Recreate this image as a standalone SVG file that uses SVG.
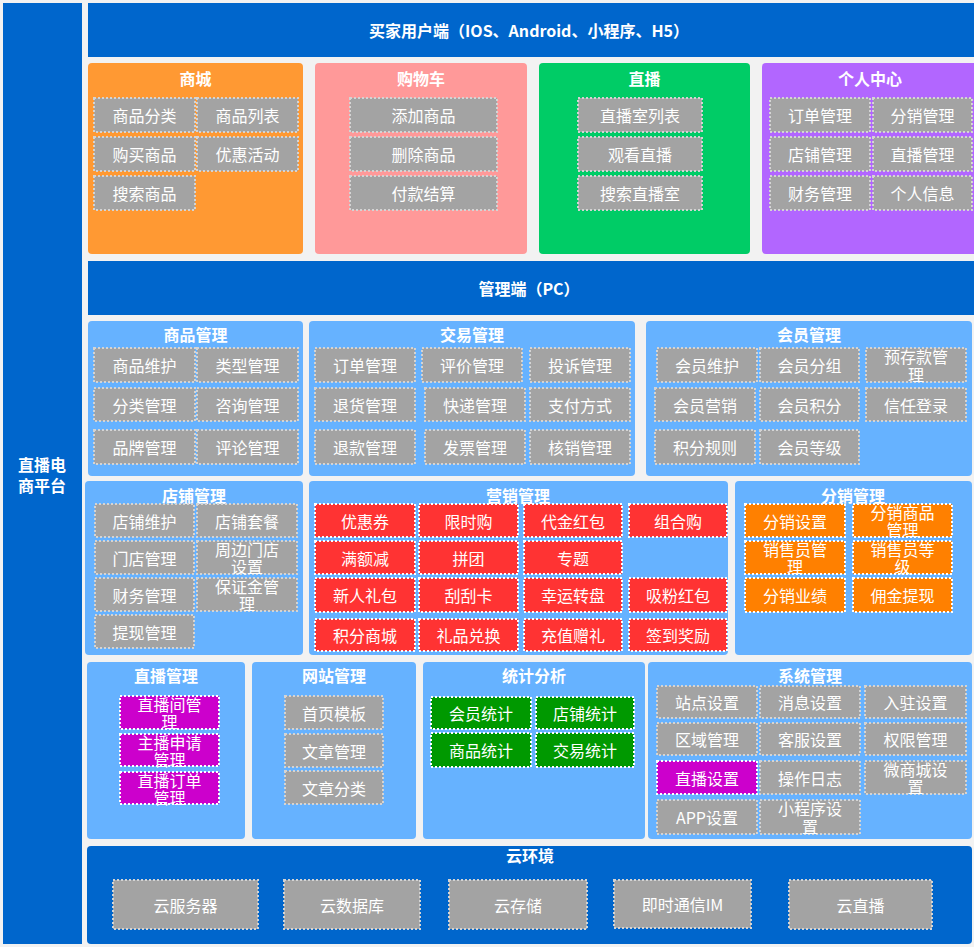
<svg xmlns="http://www.w3.org/2000/svg" width="974" height="947" viewBox="0 0 974 947">
<style>
text{font-family:"Microsoft YaHei","Noto Sans CJK SC","Noto Sans",sans-serif;fill:#fff;text-anchor:middle;dominant-baseline:central}
.t{font-size:16px;font-weight:bold}
.l{font-size:16px}
.blue{fill:#0066cc}
.card{fill:#66b2ff}
.it{fill:#a3a3a3;stroke:#d4d4d4;stroke-width:2;stroke-dasharray:2 2}
.red{fill:#ff3333;stroke:#fff;stroke-width:2;stroke-dasharray:2 2}
.org{fill:#ff8000;stroke:#fff;stroke-width:2;stroke-dasharray:2 2}
.mag{fill:#cc00cc;stroke:#fff;stroke-width:2;stroke-dasharray:2 2}
.grn{fill:#009900;stroke:#fff;stroke-width:2;stroke-dasharray:2 2}
</style>
<rect width="974" height="947" fill="#f2f2f2"/>
<g id="platform"><rect class="blue" x="3" y="3" width="79" height="941"/><text class="t" x="42" y="464">直播电<tspan x="42" dy="21">商平台</tspan></text></g>
<g id="buyer"><rect class="blue" x="88" y="3" width="890" height="54"/><text class="t" x="529" y="30">买家用户端（IOS、Android、小程序、H5）</text></g>

<g id="mall"><rect x="88" y="63" width="215" height="191" rx="4" fill="#ff9933"/><text class="t" x="195.5" y="78">商城</text>
<rect class="it" x="94" y="98" width="101" height="34"/><text class="l" x="144.5" y="115">商品分类</text>
<rect class="it" x="197" y="98" width="101" height="34"/><text class="l" x="247.5" y="115">商品列表</text>
<rect class="it" x="94" y="137" width="101" height="34"/><text class="l" x="144.5" y="154">购买商品</text>
<rect class="it" x="197" y="137" width="101" height="34"/><text class="l" x="247.5" y="154">优惠活动</text>
<rect class="it" x="94" y="176" width="101" height="34"/><text class="l" x="144.5" y="193">搜索商品</text></g>

<g id="cart"><rect x="315" y="63" width="212" height="191" rx="4" fill="#ff9999"/><text class="t" x="421" y="78">购物车</text>
<rect class="it" x="350" y="98" width="147" height="34"/><text class="l" x="423.5" y="115">添加商品</text>
<rect class="it" x="350" y="137" width="147" height="34"/><text class="l" x="423.5" y="154">删除商品</text>
<rect class="it" x="350" y="176" width="147" height="34"/><text class="l" x="423.5" y="193">付款结算</text></g>

<g id="live"><rect x="539" y="63" width="211" height="191" rx="4" fill="#00cc66"/><text class="t" x="644.5" y="78">直播</text>
<rect class="it" x="578" y="98" width="124" height="34"/><text class="l" x="640" y="115">直播室列表</text>
<rect class="it" x="578" y="137" width="124" height="34"/><text class="l" x="640" y="154">观看直播</text>
<rect class="it" x="578" y="176" width="124" height="34"/><text class="l" x="640" y="193">搜索直播室</text></g>

<g id="personal"><rect x="762" y="63" width="220" height="191" rx="4" fill="#b266ff"/><text class="t" x="870" y="78">个人中心</text>
<rect class="it" x="770" y="98" width="100" height="34"/><text class="l" x="820" y="115">订单管理</text>
<rect class="it" x="873" y="98" width="99" height="34"/><text class="l" x="922.5" y="115">分销管理</text>
<rect class="it" x="770" y="137" width="100" height="34"/><text class="l" x="820" y="154">店铺管理</text>
<rect class="it" x="873" y="137" width="99" height="34"/><text class="l" x="922.5" y="154">直播管理</text>
<rect class="it" x="770" y="176" width="100" height="34"/><text class="l" x="820" y="193">财务管理</text>
<rect class="it" x="873" y="176" width="99" height="34"/><text class="l" x="922.5" y="193">个人信息</text></g>

<g id="admin"><rect class="blue" x="88" y="261" width="890" height="54"/><text class="t" x="529" y="288">管理端（PC）</text></g>

<g id="goods"><rect class="card" x="88" y="321" width="215" height="155" rx="4"/><text class="t" x="195.5" y="334">商品管理</text>
<rect class="it" x="94" y="348" width="101" height="34"/><text class="l" x="144.5" y="365">商品维护</text>
<rect class="it" x="197" y="348" width="101" height="34"/><text class="l" x="247.5" y="365">类型管理</text>
<rect class="it" x="94" y="388" width="101" height="33"/><text class="l" x="144.5" y="404.5">分类管理</text>
<rect class="it" x="197" y="388" width="101" height="33"/><text class="l" x="247.5" y="404.5">咨询管理</text>
<rect class="it" x="94" y="430" width="101" height="34"/><text class="l" x="144.5" y="447">品牌管理</text>
<rect class="it" x="197" y="430" width="101" height="34"/><text class="l" x="247.5" y="447">评论管理</text></g>

<g id="trade"><rect class="card" x="309" y="321" width="326" height="155" rx="4"/><text class="t" x="472" y="334">交易管理</text>
<rect class="it" x="315" y="348" width="100" height="34"/><text class="l" x="365" y="365">订单管理</text>
<rect class="it" x="422" y="348" width="100" height="34"/><text class="l" x="472" y="365">评价管理</text>
<rect class="it" x="530" y="348" width="100" height="34"/><text class="l" x="580" y="365">投诉管理</text>
<rect class="it" x="315" y="388" width="100" height="33"/><text class="l" x="365" y="404.5">退货管理</text>
<rect class="it" x="425" y="388" width="100" height="33"/><text class="l" x="475" y="404.5">快递管理</text>
<rect class="it" x="530" y="388" width="100" height="33"/><text class="l" x="580" y="404.5">支付方式</text>
<rect class="it" x="315" y="430" width="100" height="34"/><text class="l" x="365" y="447">退款管理</text>
<rect class="it" x="425" y="430" width="100" height="34"/><text class="l" x="475" y="447">发票管理</text>
<rect class="it" x="530" y="430" width="100" height="34"/><text class="l" x="580" y="447">核销管理</text></g>

<g id="member"><rect class="card" x="646" y="321" width="326" height="155" rx="4"/><text class="t" x="809" y="334">会员管理</text>
<rect class="it" x="657" y="348" width="100" height="34"/><text class="l" x="707" y="365">会员维护</text>
<rect class="it" x="760" y="348" width="99" height="34"/><text class="l" x="809.5" y="365">会员分组</text>
<rect class="it" x="866" y="348" width="100" height="34"/><text class="l" x="916" y="356">预存款管<tspan x="916" dy="18">理</tspan></text>
<rect class="it" x="655" y="388" width="100" height="33"/><text class="l" x="705" y="404.5">会员营销</text>
<rect class="it" x="760" y="388" width="99" height="33"/><text class="l" x="809.5" y="404.5">会员积分</text>
<rect class="it" x="866" y="388" width="100" height="33"/><text class="l" x="916" y="404.5">信任登录</text>
<rect class="it" x="655" y="430" width="100" height="34"/><text class="l" x="705" y="447">积分规则</text>
<rect class="it" x="760" y="430" width="99" height="34"/><text class="l" x="809.5" y="447">会员等级</text></g>

<g id="store"><rect class="card" x="85" y="481" width="218" height="174" rx="4"/><text class="t" x="194" y="495">店铺管理</text>
<rect class="it" x="95" y="504" width="99" height="33"/><text class="l" x="144.5" y="520.5">店铺维护</text>
<rect class="it" x="197" y="504" width="100" height="33"/><text class="l" x="247" y="520.5">店铺套餐</text>
<rect class="it" x="95" y="541" width="99" height="33"/><text class="l" x="144.5" y="557.5">门店管理</text>
<rect class="it" x="197" y="541" width="100" height="33"/><text class="l" x="247" y="548.5">周边门店<tspan x="247" dy="17.5">设置</tspan></text>
<rect class="it" x="95" y="578" width="99" height="33"/><text class="l" x="144.5" y="594.5">财务管理</text>
<rect class="it" x="197" y="578" width="100" height="33"/><text class="l" x="247" y="585.5">保证金管<tspan x="247" dy="17.5">理</tspan></text>
<rect class="it" x="95" y="615" width="99" height="33"/><text class="l" x="144.5" y="631.5">提现管理</text></g>

<g id="marketing"><rect class="card" x="309" y="481" width="419" height="174" rx="4"/><text class="t" x="518" y="495">营销管理</text>
<rect class="red" x="315" y="504" width="100" height="33"/><text class="l" x="365" y="520.5">优惠券</text>
<rect class="red" x="419" y="504" width="99" height="33"/><text class="l" x="468.5" y="520.5">限时购</text>
<rect class="red" x="524" y="504" width="98" height="33"/><text class="l" x="573" y="520.5">代金红包</text>
<rect class="red" x="629" y="504" width="98" height="33"/><text class="l" x="678" y="520.5">组合购</text>
<rect class="red" x="315" y="541" width="100" height="33"/><text class="l" x="365" y="557.5">满额减</text>
<rect class="red" x="419" y="541" width="99" height="33"/><text class="l" x="468.5" y="557.5">拼团</text>
<rect class="red" x="524" y="541" width="98" height="33"/><text class="l" x="573" y="557.5">专题</text>
<rect class="red" x="315" y="578" width="100" height="34"/><text class="l" x="365" y="595">新人礼包</text>
<rect class="red" x="419" y="578" width="99" height="34"/><text class="l" x="468.5" y="595">刮刮卡</text>
<rect class="red" x="524" y="578" width="98" height="34"/><text class="l" x="573" y="595">幸运转盘</text>
<rect class="red" x="629" y="578" width="98" height="34"/><text class="l" x="678" y="595">吸粉红包</text>
<rect class="red" x="315" y="619" width="100" height="32"/><text class="l" x="365" y="635">积分商城</text>
<rect class="red" x="419" y="619" width="99" height="32"/><text class="l" x="468.5" y="635">礼品兑换</text>
<rect class="red" x="524" y="619" width="98" height="32"/><text class="l" x="573" y="635">充值赠礼</text>
<rect class="red" x="629" y="619" width="98" height="32"/><text class="l" x="678" y="635">签到奖励</text></g>

<g id="distribution"><rect class="card" x="735" y="481" width="237" height="174" rx="4"/><text class="t" x="853" y="495">分销管理</text>
<rect class="org" x="745" y="504" width="100" height="33"/><text class="l" x="795" y="520.5">分销设置</text>
<rect class="org" x="853" y="504" width="99" height="33"/><text class="l" x="902.5" y="511.5">分销商品<tspan x="902.5" dy="17.5">管理</tspan></text>
<rect class="org" x="745" y="541" width="100" height="33"/><text class="l" x="795" y="548.5">销售员管<tspan x="795" dy="17.5">理</tspan></text>
<rect class="org" x="853" y="541" width="99" height="33"/><text class="l" x="902.5" y="548.5">销售员等<tspan x="902.5" dy="17.5">级</tspan></text>
<rect class="org" x="745" y="578" width="100" height="34"/><text class="l" x="795" y="595">分销业绩</text>
<rect class="org" x="853" y="578" width="99" height="34"/><text class="l" x="902.5" y="595">佣金提现</text></g>

<g id="livemgmt"><rect class="card" x="87" y="662" width="158" height="177" rx="4"/><text class="t" x="166" y="675">直播管理</text>
<rect class="mag" x="120" y="696" width="99" height="33"/><text class="l" x="169.5" y="703.5">直播间管<tspan x="169.5" dy="17.5">理</tspan></text>
<rect class="mag" x="120" y="734" width="99" height="32"/><text class="l" x="169.5" y="741.5">主播申请<tspan x="169.5" dy="17.5">管理</tspan></text>
<rect class="mag" x="120" y="772" width="99" height="32"/><text class="l" x="169.5" y="779.5">直播订单<tspan x="169.5" dy="17.5">管理</tspan></text></g>

<g id="website"><rect class="card" x="252" y="662" width="164" height="177" rx="4"/><text class="t" x="334" y="675">网站管理</text>
<rect class="it" x="285" y="696" width="98" height="33"/><text class="l" x="334" y="712.5">首页模板</text>
<rect class="it" x="285" y="734" width="98" height="33"/><text class="l" x="334" y="750.5">文章管理</text>
<rect class="it" x="285" y="771" width="98" height="33"/><text class="l" x="334" y="787.5">文章分类</text></g>

<g id="stats"><rect class="card" x="423" y="662" width="222" height="177" rx="4"/><text class="t" x="534" y="675">统计分析</text>
<rect class="grn" x="431" y="697" width="100" height="32"/><text class="l" x="481" y="713">会员统计</text>
<rect class="grn" x="536" y="697" width="98" height="32"/><text class="l" x="585" y="713">店铺统计</text>
<rect class="grn" x="431" y="733" width="100" height="34"/><text class="l" x="481" y="750">商品统计</text>
<rect class="grn" x="536" y="733" width="98" height="34"/><text class="l" x="585" y="750">交易统计</text></g>

<g id="system"><rect class="card" x="648" y="662" width="324" height="177" rx="4"/><text class="t" x="810" y="675">系统管理</text>
<rect class="it" x="657" y="686" width="100" height="32"/><text class="l" x="707" y="702">站点设置</text>
<rect class="it" x="760" y="686" width="100" height="32"/><text class="l" x="810" y="702">消息设置</text>
<rect class="it" x="865" y="686" width="101" height="32"/><text class="l" x="915.5" y="702">入驻设置</text>
<rect class="it" x="657" y="723" width="100" height="32"/><text class="l" x="707" y="739">区域管理</text>
<rect class="it" x="760" y="723" width="100" height="32"/><text class="l" x="810" y="739">客服设置</text>
<rect class="it" x="865" y="723" width="101" height="32"/><text class="l" x="915.5" y="739">权限管理</text>
<rect class="mag" x="657" y="761" width="100" height="33"/><text class="l" x="707" y="777.5">直播设置</text>
<rect class="it" x="760" y="761" width="100" height="33"/><text class="l" x="810" y="777.5">操作日志</text>
<rect class="it" x="865" y="761" width="101" height="33"/><text class="l" x="915.5" y="768.5">微商城设<tspan x="915.5" dy="17.5">置</tspan></text>
<rect class="it" x="657" y="800" width="100" height="34"/><text class="l" x="707" y="817">APP设置</text>
<rect class="it" x="760" y="800" width="100" height="34"/><text class="l" x="810" y="808">小程序设<tspan x="810" dy="18">置</tspan></text></g>

<g id="cloud"><rect class="blue" x="87" y="846" width="885" height="98" rx="4"/><text class="t" x="530" y="855">云环境</text>
<rect class="it" x="113" y="880" width="145" height="49"/><text class="l" x="185.5" y="904.5">云服务器</text>
<rect class="it" x="284" y="880" width="136" height="49"/><text class="l" x="352" y="904.5">云数据库</text>
<rect class="it" x="449" y="880" width="138" height="49"/><text class="l" x="518" y="904.5">云存储</text>
<rect class="it" x="614" y="880" width="137" height="48"/><text class="l" x="682.5" y="904">即时通信IM</text>
<rect class="it" x="789" y="880" width="143" height="49"/><text class="l" x="860.5" y="904.5">云直播</text></g>
<g id="connectors"/>
</svg>
